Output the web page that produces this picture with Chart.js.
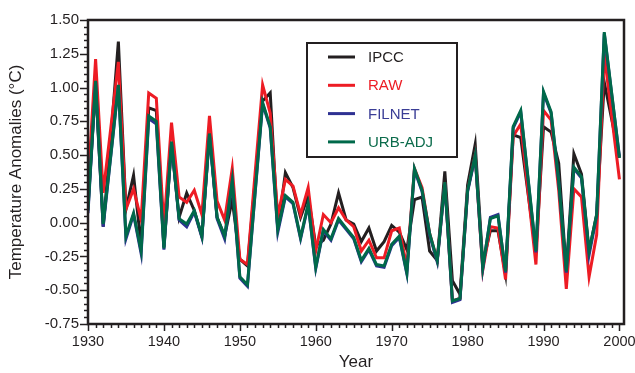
<!DOCTYPE html>
<html>
<head>
<meta charset="utf-8">
<script src="https://cdn.jsdelivr.net/npm/chart.js@4.4.0/dist/chart.umd.min.js"></script>
<style>
  html, body { margin: 0; padding: 0; background: #fff; }
  #wrap { width: 635px; height: 373px; }
</style>
</head>
<body>
<div id="wrap"><canvas id="tempChart" width="635" height="373"></canvas></div>
<script>
// years 1930 - 2000
const years = [];
for (let y = 1930; y <= 2000; y++) years.push(y);

const ipcc = [
  0.12, 1.02, -0.03, 0.62, 1.34, 0.10, 0.35, -0.17, 0.85, 0.83,
  -0.18, 0.58, 0.04, 0.22, 0.09, -0.10, 0.66, 0.04, -0.10, 0.17,
  -0.27, -0.32, 0.30, 0.90, 0.96, -0.05, 0.37, 0.26, 0.04, 0.20,
  -0.17, -0.13, -0.01, 0.22, 0.02, -0.01, -0.14, -0.04, -0.21, -0.14,
  -0.02, -0.07, -0.20, 0.17, 0.19, -0.21, -0.28, 0.38, -0.43, -0.53,
  0.28, 0.58, -0.30, -0.06, -0.06, -0.38, 0.65, 0.63, 0.20, -0.22,
  0.71, 0.67, 0.44, -0.36, 0.51, 0.36, -0.21, 0.06, 1.04, 0.76,
  0.48
];
const raw = [
  0.28, 1.21, 0.22, 0.70, 1.19, 0.10, 0.25, 0.02, 0.96, 0.92,
  -0.03, 0.74, 0.19, 0.15, 0.24, 0.06, 0.79, 0.16, 0.02, 0.40,
  -0.27, -0.31, 0.36, 1.02, 0.81, 0.05, 0.32, 0.27, 0.06, 0.26,
  -0.21, 0.06, 0.00, 0.11, 0.02, -0.03, -0.21, -0.13, -0.26, -0.26,
  -0.06, -0.04, -0.33, 0.40, 0.26, -0.08, -0.28, 0.30, -0.58, -0.56,
  0.24, 0.50, -0.35, -0.03, -0.04, -0.42, 0.64, 0.73, 0.21, -0.31,
  0.83, 0.76, 0.24, -0.49, 0.25, 0.19, -0.40, -0.09, 1.25, 0.78,
  0.32
];
const filnet = [
  0.07, 1.04, -0.03, 0.49, 1.01, -0.12, 0.06, -0.23, 0.77, 0.73,
  -0.20, 0.59, 0.02, -0.03, 0.08, -0.11, 0.65, 0.03, -0.12, 0.30,
  -0.41, -0.47, 0.21, 0.88, 0.70, -0.07, 0.19, 0.14, -0.12, 0.13,
  -0.34, -0.06, -0.13, 0.02, -0.05, -0.12, -0.29, -0.20, -0.32, -0.33,
  -0.17, -0.11, -0.38, 0.39, 0.23, -0.09, -0.29, 0.29, -0.59, -0.57,
  0.23, 0.49, -0.34, 0.04, 0.06, -0.37, 0.70, 0.82, 0.30, -0.22,
  0.96, 0.81, 0.30, -0.37, 0.40, 0.33, -0.24, 0.05, 1.40, 0.94,
  0.49
];
const urbAdj = [
  0.09, 1.05, -0.01, 0.50, 1.02, -0.10, 0.07, -0.21, 0.79, 0.75,
  -0.19, 0.60, 0.03, -0.01, 0.09, -0.10, 0.66, 0.04, -0.10, 0.31,
  -0.40, -0.46, 0.22, 0.89, 0.71, -0.05, 0.20, 0.15, -0.11, 0.14,
  -0.33, -0.05, -0.12, 0.03, -0.04, -0.11, -0.28, -0.19, -0.31, -0.32,
  -0.16, -0.10, -0.37, 0.40, 0.24, -0.08, -0.28, 0.30, -0.58, -0.56,
  0.24, 0.50, -0.33, 0.03, 0.05, -0.36, 0.71, 0.83, 0.31, -0.21,
  0.97, 0.82, 0.31, -0.36, 0.41, 0.34, -0.21, 0.06, 1.41, 0.95,
  0.48
];

const seriesNames = ['IPCC', 'RAW', 'FILNET', 'URB-ADJ'];
const lineColors = ['#231f20', '#ed1c24', '#2e3192', '#00694a'];
const textColors = ['#231f20', '#ed1c24', '#3a3d96', '#0b6b4b'];

const yTicks = [-0.75, -0.5, -0.25, 0, 0.25, 0.5, 0.75, 1.0, 1.25, 1.5];
const xTicks = [1930, 1940, 1950, 1960, 1970, 1980, 1990, 2000];

const FONT = '"Liberation Sans", Arial, Helvetica, sans-serif';

function toPoints(vals) {
  return years.map((yr, i) => ({ x: yr, y: vals[i] }));
}

const allSeries = [ipcc, raw, filnet, urbAdj];

// frame, tick marks (major + minor) and the boxed legend
const framePlugin = {
  id: 'frame',
  afterDraw(chart) {
    const ctx = chart.ctx;
    const a = chart.chartArea;
    const xs = chart.scales.x, ys = chart.scales.y;
    ctx.save();
    ctx.strokeStyle = '#231f20';
    ctx.lineWidth = 1.5;
    // y ticks every 0.05
    for (let i = 0; i <= 45; i++) {
      const v = -0.75 + i * 0.05;
      const py = Math.round(ys.getPixelForValue(v)) + 0.5;
      const len = (i % 5 === 0) ? 8 : 4;
      ctx.beginPath();
      ctx.moveTo(a.left, py);
      ctx.lineTo(a.left - len, py);
      ctx.stroke();
    }
    // x ticks every year
    for (let yr = 1930; yr <= 2000; yr++) {
      const px = Math.round(xs.getPixelForValue(yr)) + 0.5;
      const len = (yr % 10 === 0) ? 7 : 4;
      ctx.beginPath();
      ctx.moveTo(px, a.bottom);
      ctx.lineTo(px, a.bottom + len);
      ctx.stroke();
    }
    ctx.lineWidth = 2.5;
    ctx.strokeRect(a.left, a.top, a.right - a.left, a.bottom - a.top);

    // legend box
    const lx = 307, ly = 43, lw = 150, lh = 114;
    ctx.fillStyle = '#fff';
    ctx.fillRect(lx, ly, lw, lh);
    ctx.lineWidth = 2;
    ctx.strokeRect(lx, ly, lw, lh);
    ctx.font = '15px ' + FONT;
    ctx.textBaseline = 'middle';
    ctx.textAlign = 'left';
    seriesNames.forEach((name, i) => {
      const ry = ly + 14 + i * 28.3;
      ctx.strokeStyle = lineColors[i];
      ctx.lineWidth = 3;
      ctx.beginPath();
      ctx.moveTo(328, ry);
      ctx.lineTo(355, ry);
      ctx.stroke();
      ctx.fillStyle = textColors[i];
      ctx.fillText(name, 368, ry + 1);
    });
    ctx.restore();
  }
};

new Chart(document.getElementById('tempChart'), {
  type: 'line',
  data: {
    datasets: allSeries.map((vals, i) => ({
      label: seriesNames[i],
      data: toPoints(vals),
      borderColor: lineColors[i],
      backgroundColor: lineColors[i],
      borderWidth: 3,
      pointRadius: 0,
      tension: 0,
      fill: false,
      order: 4 - i
    }))
  },
  options: {
    responsive: false,
    animation: false,
    devicePixelRatio: 1,
    layout: { padding: { top: 20, right: 11, left: 0, bottom: 0 } },
    plugins: { legend: { display: false }, tooltip: { enabled: false } },
    scales: {
      x: {
        type: 'linear',
        min: 1930,
        max: 2000.6,
        grid: { display: false, drawTicks: false },
        border: { display: false },
        afterBuildTicks: s => { s.ticks = xTicks.map(v => ({ value: v })); },
        afterFit: s => { s.height = 49; s.paddingLeft = 0; s.paddingRight = 0; },
        ticks: {
          padding: 9,
          color: '#231f20',
          font: { family: FONT, size: 14.5 },
          maxRotation: 0,
          callback: v => String(v)
        },
        title: {
          display: true,
          text: 'Year',
          color: '#231f20',
          font: { family: FONT, size: 17 },
          padding: { top: 0, bottom: 0 }
        }
      },
      y: {
        min: -0.75,
        max: 1.5,
        grid: { display: false, drawTicks: false },
        border: { display: false },
        afterBuildTicks: s => { s.ticks = yTicks.map(v => ({ value: v })); },
        afterFit: s => { s.width = 88; },
        ticks: {
          padding: 9,
          color: '#231f20',
          font: { family: FONT, size: 15 },
          callback: v => v.toFixed(2)
        },
        title: {
          display: true,
          text: 'Temperature Anomalies (°C)',
          color: '#231f20',
          font: { family: FONT, size: 17 },
          padding: { top: 6, bottom: 0 }
        }
      }
    }
  },
  plugins: [framePlugin]
});
</script>
</body>
</html>
